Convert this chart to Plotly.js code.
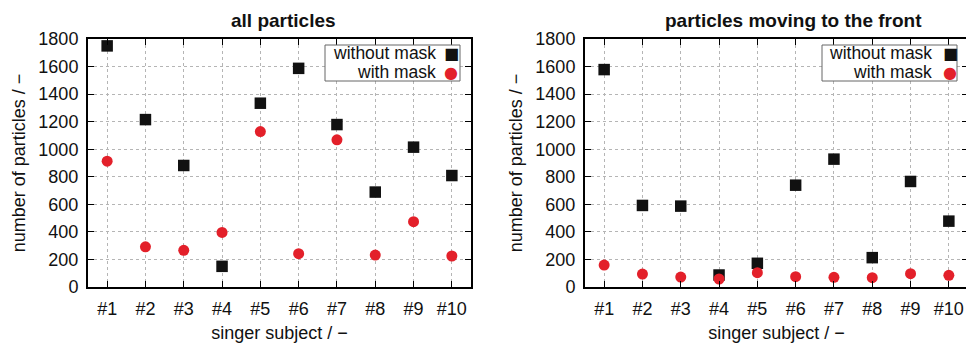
<!DOCTYPE html>
<html>
<head>
<meta charset="utf-8">
<script src="https://cdn.plot.ly/plotly-3.0.1.min.js"></script>
<style>html,body{margin:0;padding:0;overflow:hidden;background:#fff;}#chart{width:975px;height:343px;}</style>
</head>
<body>
<div id="chart"></div>
<script>
const subjects = [1,2,3,4,5,6,7,8,9,10];
const tickLabels = ["#1","#2","#3","#4","#5","#6","#7","#8","#9","#10"];
const allWithout = [1750,1215,882,150,1334,1587,1179,689,1015,809];
const allWith = [913,292,266,396,1128,242,1068,232,474,225];
const frontWithout = [1578,592,587,87,172,739,928,213,766,478];
const frontWith = [159,94,72,58,104,75,70,68,97,85];
const seriesNames = ["without mask","with mask"];
const panelTitles = ["all particles","particles moving to the front"];

const W = 975, H = 343;
const px = x => x / W, py = y => 1 - y / H;
const BLACK = "#111111", RED = "#e3202a";
const FONT = "Liberation Sans, Arial, sans-serif";

function sq(x, y, xa, ya, name) {
  return {x: x, y: y, xaxis: xa, yaxis: ya, type: "scatter", mode: "markers", name: name,
    marker: {symbol: "square", size: 11.5, color: BLACK}, showlegend: false};
}
function ci(x, y, xa, ya, name) {
  return {x: x, y: y, xaxis: xa, yaxis: ya, type: "scatter", mode: "markers", name: name,
    marker: {symbol: "circle", size: 11, color: RED}, showlegend: false};
}

const traces = [
  sq(subjects, allWithout, "x", "y", seriesNames[0]),
  ci(subjects, allWith, "x", "y", seriesNames[1]),
  sq(subjects, frontWithout, "x2", "y2", seriesNames[0]),
  ci(subjects, frontWith, "x2", "y2", seriesNames[1])
];

function xax(dom) {
  return {domain: dom, range: [0.5, 10.5], tickmode: "array", tickvals: subjects, ticktext: tickLabels,
    showgrid: true, gridcolor: "#b5b5b5", griddash: "dot", gridwidth: 1,
    showline: true, linecolor: "#000", linewidth: 2, mirror: "ticks",
    ticks: "inside", ticklen: 6, tickcolor: "#000", tickwidth: 1,
    tickfont: {family: FONT, size: 18, color: "#111"}, ticklabelstandoff: 4,
    zeroline: false, fixedrange: true,
    title: {text: "singer subject / \u2212", font: {family: FONT, size: 18, color: "#111"}, standoff: 9}};
}
function yax(dom, anchor) {
  return {domain: dom, anchor: anchor, range: [0, 1800], tickmode: "linear", tick0: 0, dtick: 200,
    showgrid: true, gridcolor: "#b5b5b5", griddash: "dot", gridwidth: 1,
    showline: true, linecolor: "#000", linewidth: 2, mirror: "ticks",
    ticks: "inside", ticklen: 6, tickcolor: "#000", tickwidth: 1,
    tickfont: {family: FONT, size: 18, color: "#111"}, ticklabelstandoff: 4,
    zeroline: false, fixedrange: true,
    title: {text: "number of particles / \u2212", font: {family: FONT, size: 18, color: "#111"}, standoff: 8}};
}

const yDom = [py(287), py(39)];
const layout = {
  width: W, height: H, margin: {l: 0, r: 0, t: 0, b: 0},
  paper_bgcolor: "#fff", plot_bgcolor: "#fff", showlegend: false,
  xaxis: Object.assign(xax([px(88), px(471)]), {anchor: "y"}),
  yaxis: yax(yDom, "x"),
  xaxis2: Object.assign(xax([px(585), px(968)]), {anchor: "y2"}),
  yaxis2: yax(yDom, "x2"),
  annotations: [], shapes: []
};

// titles
[[283, panelTitles[0]], [793, panelTitles[1]]].forEach(([cx, t]) => {
  layout.annotations.push({xref: "paper", yref: "paper", x: px(cx), y: py(21), xanchor: "center", yanchor: "middle",
    text: "<b>" + t + "</b>", showarrow: false, font: {family: FONT, size: 19, color: "#111"}});
});

// legends (gnuplot style: text right-aligned, symbol on the right)
function legend(x0, x1, textRight, symX) {
  layout.shapes.push({type: "rect", xref: "paper", yref: "paper", x0: px(x0), x1: px(x1), y0: py(81), y1: py(45),
    line: {color: "#666", width: 1}, fillcolor: "#fff", layer: "above"});
  layout.annotations.push({xref: "paper", yref: "paper", x: px(textRight), y: py(53.5), xanchor: "right", yanchor: "middle",
    text: seriesNames[0], showarrow: false, font: {family: FONT, size: 17.5, color: "#111"}});
  layout.annotations.push({xref: "paper", yref: "paper", x: px(textRight), y: py(71.5), xanchor: "right", yanchor: "middle",
    text: seriesNames[1], showarrow: false, font: {family: FONT, size: 17.5, color: "#111"}});
  layout.annotations.push({xref: "paper", yref: "paper", x: px(symX), y: py(54), xanchor: "center", yanchor: "middle",
    text: "\u25A0", showarrow: false, font: {family: "DejaVu Sans", size: 16, color: BLACK}});
  layout.annotations.push({xref: "paper", yref: "paper", x: px(symX), y: py(72), xanchor: "center", yanchor: "middle",
    text: "\u25CF", showarrow: false, font: {family: "DejaVu Sans", size: 16, color: RED}});
}
legend(325, 460, 438, 451);
legend(822, 957, 934, 950);

Plotly.newPlot("chart", traces, layout, {staticPlot: true, displayModeBar: false});
</script>
</body>
</html>
